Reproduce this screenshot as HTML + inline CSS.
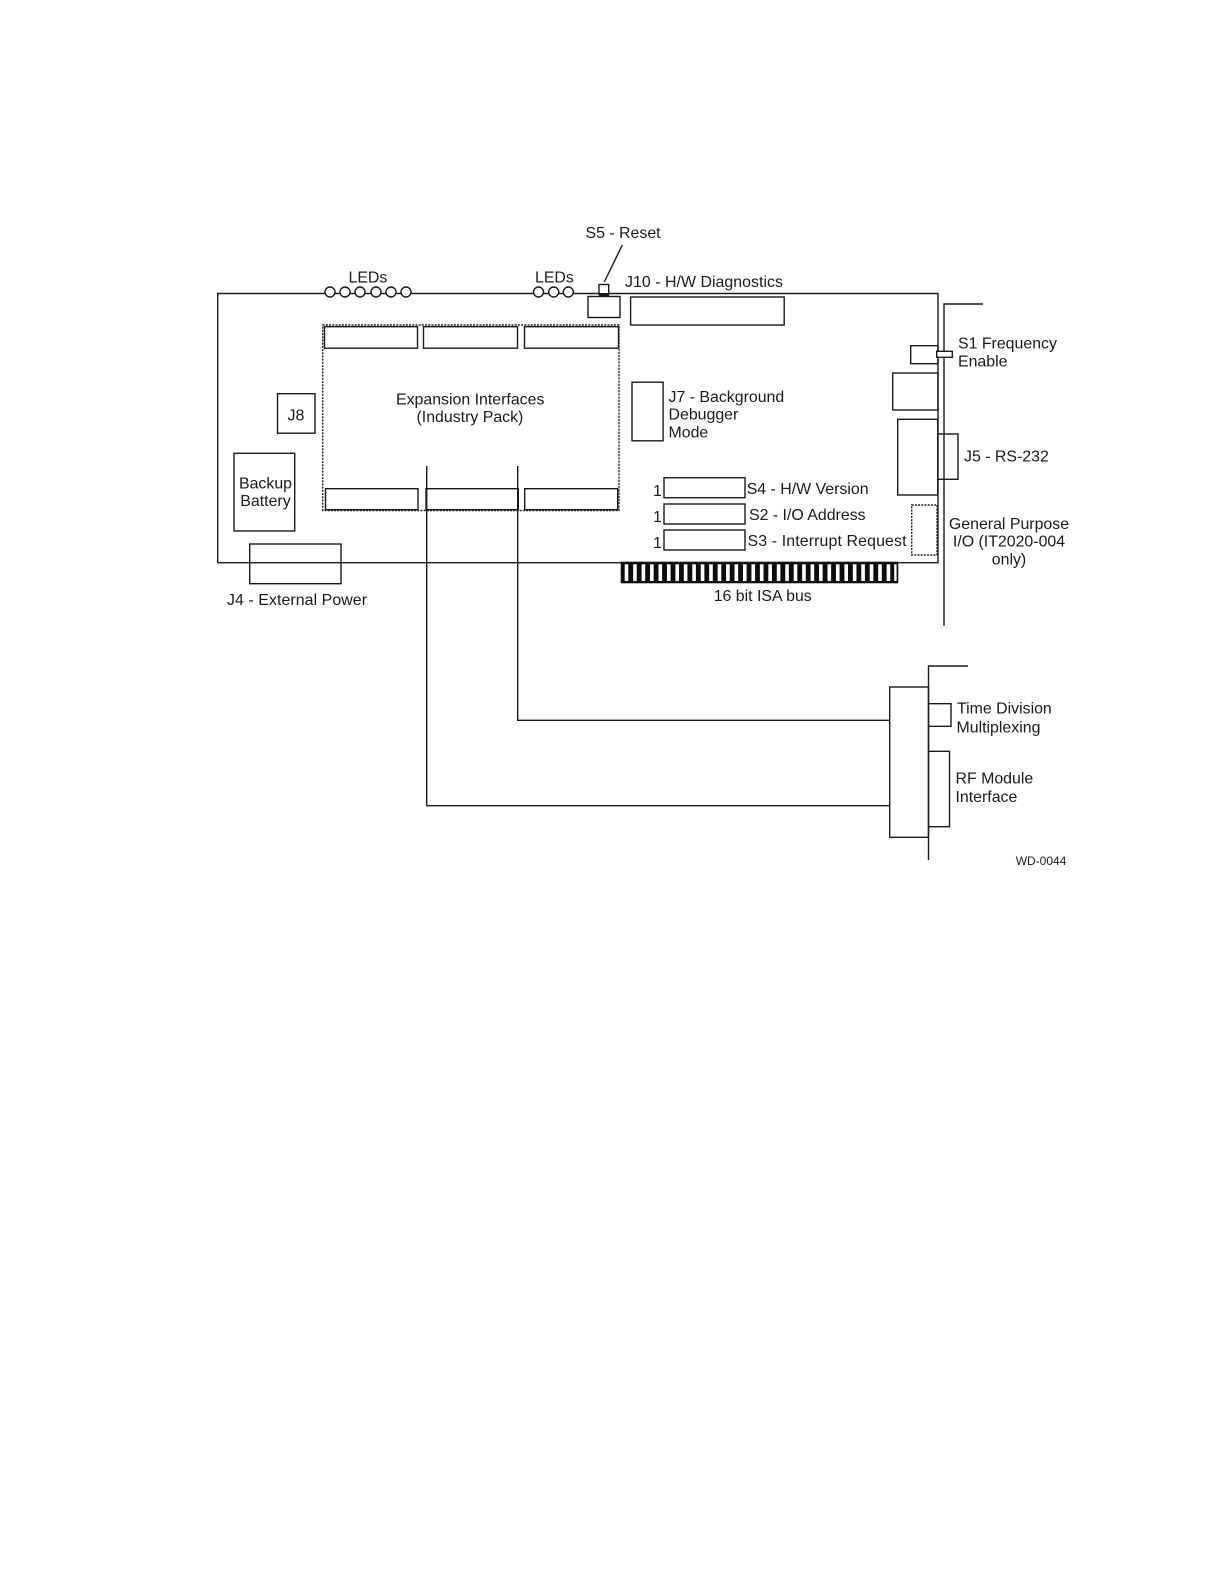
<!DOCTYPE html>
<html><head><meta charset="utf-8"><style>
html,body{margin:0;padding:0;background:#fff}
svg{display:block}
text{font-family:"Liberation Sans",sans-serif;font-size:15.9px;fill:#1a1a1a}
.l{fill:none;stroke:#1a1a1a;stroke-width:1.4}
.w{fill:#fff;stroke:#1a1a1a;stroke-width:1.4}
.d{fill:none;stroke:#222;stroke-width:1.4;stroke-dasharray:2 1.2}
</style></head><body>
<svg width="1222" height="1582" viewBox="0 0 1222 1582" xmlns="http://www.w3.org/2000/svg">
<rect width="1222" height="1582" fill="#fff"/>
<!-- board -->
<path class="l" d="M217.7 562.7V293.5H938V562.7H217.7"/>
<!-- bracket upper -->
<path class="l" d="M983 304H944V626"/>
<!-- LEDs -->
<g class="w">
<circle class="w" cx="330" cy="292" r="5"/><circle class="w" cx="345" cy="292" r="5"/><circle class="w" cx="360" cy="292" r="5"/><circle class="w" cx="376" cy="292" r="5"/><circle class="w" cx="391" cy="292" r="5"/><circle class="w" cx="406" cy="292" r="5"/>
<circle class="w" cx="538.5" cy="292" r="5"/><circle class="w" cx="553.7" cy="292" r="5"/><circle class="w" cx="568.3" cy="292" r="5"/>
</g>
<!-- reset -->
<rect class="w" x="599" y="284.5" width="9.7" height="10"/>
<rect x="599" y="293" width="10" height="3" fill="#1a1a1a"/>
<rect class="w" x="588" y="296.5" width="32" height="21"/>
<path class="l" d="M604.3 282L622.3 245"/>
<!-- J10 -->
<rect class="w" x="630.6" y="297" width="153.6" height="28"/>
<!-- expansion region -->
<rect class="d" x="322.7" y="325" width="296.3" height="185.5"/>
<rect class="w" x="324.5" y="326.7" width="93" height="21.5"/>
<rect class="w" x="423.5" y="326.7" width="94" height="21.5"/>
<rect class="w" x="524.5" y="326.7" width="94" height="21.5"/>
<rect class="w" x="325.5" y="488.7" width="92.5" height="21"/>
<rect class="w" x="426" y="488.7" width="92.3" height="21"/>
<rect class="w" x="524.7" y="488.7" width="93" height="21"/>
<!-- J8, battery, J4, J7 -->
<rect class="w" x="277.5" y="393.7" width="37.5" height="39.5"/>
<rect class="w" x="234" y="453.3" width="60.7" height="77.7"/>
<rect class="l" x="249.7" y="544" width="91.3" height="39.7"/>
<rect class="w" x="632" y="382.2" width="31.1" height="58.6"/>
<!-- switches -->
<rect class="w" x="664" y="477.7" width="81" height="20"/>
<rect class="w" x="664" y="504" width="81" height="20"/>
<rect class="w" x="664" y="530" width="81" height="20"/>
<!-- right-side connectors -->
<rect class="l" x="910.7" y="345.7" width="27.3" height="18"/>
<rect class="w" x="936.7" y="351.3" width="15.6" height="6"/>
<rect class="l" x="892.7" y="373" width="45.3" height="37"/>
<rect class="l" x="897.7" y="419.3" width="40" height="75.7"/>
<rect class="l" x="937.7" y="434" width="20.3" height="45.3"/>
<rect class="d" x="911.7" y="505" width="25.3" height="50"/>
<!-- ISA -->
<rect x="620.7" y="561.7" width="277.6" height="21.6" fill="#0d0d0d"/>
<g fill="#fff">
<rect x="624.7" y="564.3" width="3.6" height="16.7"/><rect x="633.15" y="564.3" width="3.6" height="16.7"/><rect x="641.6" y="564.3" width="3.6" height="16.7"/><rect x="650.05" y="564.3" width="3.6" height="16.7"/><rect x="658.5" y="564.3" width="3.6" height="16.7"/><rect x="666.95" y="564.3" width="3.6" height="16.7"/><rect x="675.4" y="564.3" width="3.6" height="16.7"/><rect x="683.85" y="564.3" width="3.6" height="16.7"/><rect x="692.3" y="564.3" width="3.6" height="16.7"/><rect x="700.75" y="564.3" width="3.6" height="16.7"/><rect x="709.2" y="564.3" width="3.6" height="16.7"/><rect x="717.65" y="564.3" width="3.6" height="16.7"/><rect x="726.1" y="564.3" width="3.6" height="16.7"/><rect x="734.55" y="564.3" width="3.6" height="16.7"/><rect x="743" y="564.3" width="3.6" height="16.7"/><rect x="751.45" y="564.3" width="3.6" height="16.7"/><rect x="759.9" y="564.3" width="3.6" height="16.7"/><rect x="768.35" y="564.3" width="3.6" height="16.7"/><rect x="776.8" y="564.3" width="3.6" height="16.7"/><rect x="785.25" y="564.3" width="3.6" height="16.7"/><rect x="793.7" y="564.3" width="3.6" height="16.7"/><rect x="802.15" y="564.3" width="3.6" height="16.7"/><rect x="810.6" y="564.3" width="3.6" height="16.7"/><rect x="819.05" y="564.3" width="3.6" height="16.7"/><rect x="827.5" y="564.3" width="3.6" height="16.7"/><rect x="835.95" y="564.3" width="3.6" height="16.7"/><rect x="844.4" y="564.3" width="3.6" height="16.7"/><rect x="852.85" y="564.3" width="3.6" height="16.7"/><rect x="861.3" y="564.3" width="3.6" height="16.7"/><rect x="869.75" y="564.3" width="3.6" height="16.7"/><rect x="878.2" y="564.3" width="3.6" height="16.7"/><rect x="886.65" y="564.3" width="3.6" height="16.7"/><rect x="894.2" y="564.3" width="2.4" height="16.7"/>
</g>
<!-- cables -->
<path class="l" d="M426.7 466V805.7H890"/>
<path class="l" d="M517.7 466V720.3H890"/>
<!-- lower bracket -->
<path class="l" d="M968 666H928.5V860"/>
<rect class="l" x="889.7" y="687" width="38.8" height="150.3"/>
<path class="l" d="M928.5 703.7H951V726.3H928.5"/>
<path class="l" d="M928.5 751.3H949.5V826.7H928.5"/>
<!-- labels -->
<text x="585.5" y="238">S5 - Reset</text>
<text x="348.5" y="282.7">LEDs</text>
<text x="535" y="282.7">LEDs</text>
<text x="625" y="287" textLength="158" lengthAdjust="spacing">J10 - H/W Diagnostics</text>
<text x="958" y="348.5">S1 Frequency</text>
<text x="958" y="366.5">Enable</text>
<text x="396" y="404.5">Expansion Interfaces</text>
<text x="416.5" y="422">(Industry Pack)</text>
<text x="287.5" y="420.7">J8</text>
<text x="668.5" y="402">J7 - Background</text>
<text x="668.5" y="419.7">Debugger</text>
<text x="668.5" y="437.6">Mode</text>
<text x="964" y="461.5">J5 - RS-232</text>
<text x="239" y="488.3">Backup</text>
<text x="240.3" y="506">Battery</text>
<text x="653" y="496">1</text>
<text x="653" y="522">1</text>
<text x="653" y="548">1</text>
<text x="746.7" y="494">S4 - H/W Version</text>
<text x="749" y="520">S2 - I/O Address</text>
<text x="747.5" y="546" textLength="159" lengthAdjust="spacing">S3 - Interrupt Request</text>
<text x="1009" y="529" text-anchor="middle">General Purpose</text>
<text x="1009" y="546.5" text-anchor="middle">I/O (IT2020-004</text>
<text x="1009" y="564.5" text-anchor="middle">only)</text>
<text x="713.7" y="601">16 bit ISA bus</text>
<text x="227" y="605" textLength="140" lengthAdjust="spacing">J4 - External Power</text>
<text x="957" y="713.3">Time Division</text>
<text x="956.5" y="732.7">Multiplexing</text>
<text x="955.5" y="783.3">RF Module</text>
<text x="955.5" y="802">Interface</text>
<text x="1015.7" y="865" style="font-size:12px">WD-0044</text>
</svg>
</body></html>
